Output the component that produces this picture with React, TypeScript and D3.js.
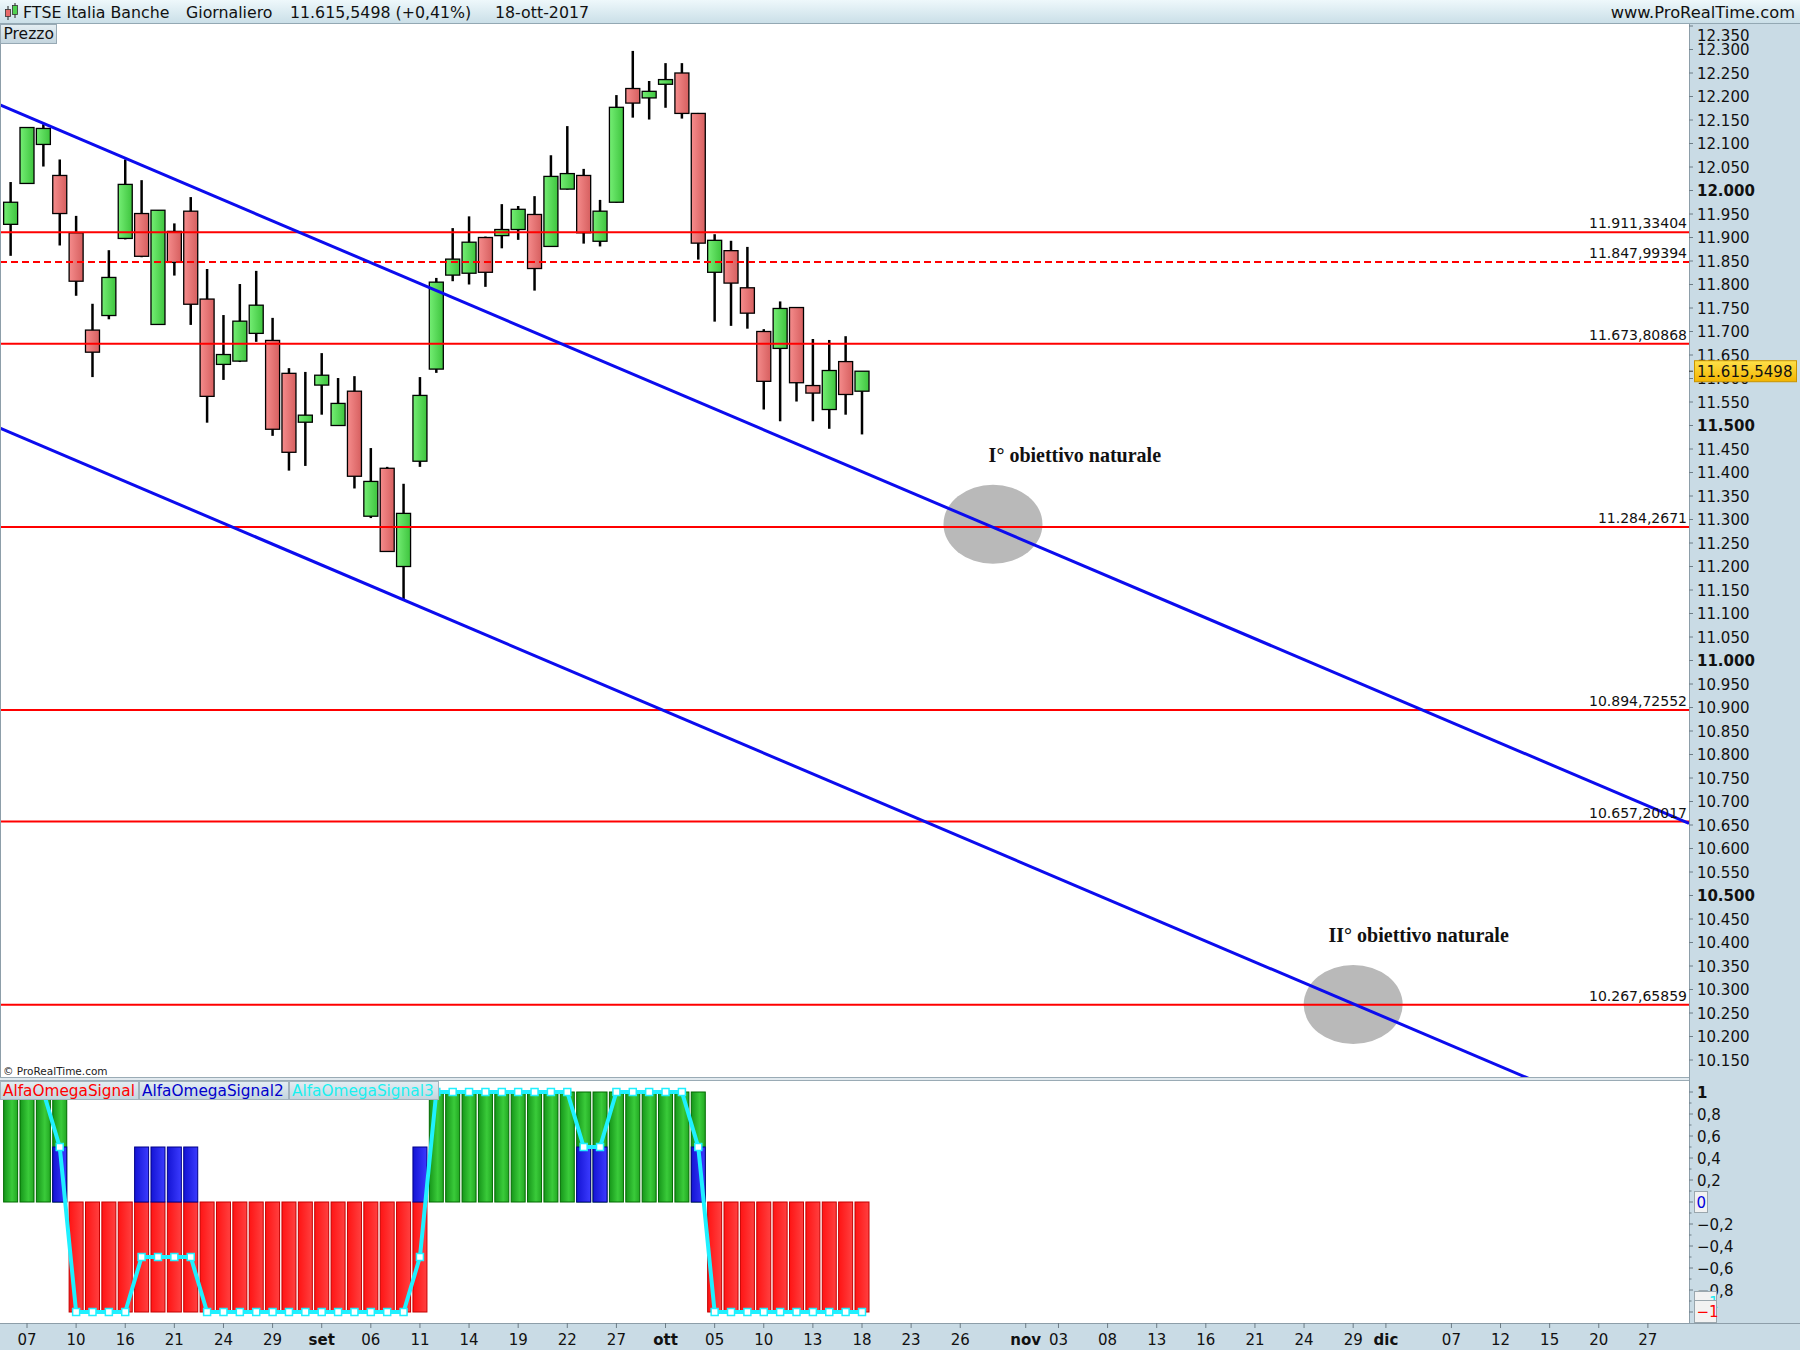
import React from 'react';
import * as d3 from 'd3';

// ---------------- DATA ----------------
const FIRST_DAY = '2017-08-04';
const LAST_DAY = '2017-12-29';
const HOLIDAYS = ['2017-08-15', '2017-12-25', '2017-12-26'];

const opens = [11.928, 12.015, 12.098, 12.032, 11.910, 11.703, 11.734, 11.898, 11.951, 11.715, 11.913, 11.956, 11.769, 11.630, 11.637, 11.696, 11.681, 11.611, 11.507, 11.586, 11.500, 11.573, 11.307, 11.409, 11.200, 11.424, 11.620, 11.820, 11.824, 11.900, 11.904, 11.917, 11.949, 11.881, 12.003, 12.032, 11.892, 11.975, 12.217, 12.197, 12.226, 12.250, 12.164, 11.826, 11.872, 11.793, 11.700, 11.664, 11.751, 11.585, 11.534, 11.636, 11.573];
const highs = [12.018, 12.134, 12.141, 12.066, 11.946, 11.759, 11.873, 12.066, 12.022, 11.958, 11.930, 11.986, 11.833, 11.735, 11.801, 11.829, 11.729, 11.622, 11.614, 11.654, 11.601, 11.605, 11.452, 11.412, 11.376, 11.603, 11.814, 11.920, 11.945, 11.902, 11.971, 11.967, 11.988, 12.075, 12.137, 12.046, 11.980, 12.203, 12.297, 12.233, 12.271, 12.271, 12.165, 11.907, 11.893, 11.880, 11.705, 11.764, 11.752, 11.684, 11.682, 11.690, 11.614];
const lows = [11.861, 12.015, 12.051, 11.883, 11.776, 11.603, 11.726, 11.896, 11.858, 11.715, 11.819, 11.714, 11.506, 11.597, 11.635, 11.678, 11.478, 11.404, 11.414, 11.523, 11.499, 11.366, 11.303, 11.231, 11.129, 11.412, 11.612, 11.807, 11.800, 11.795, 11.877, 11.895, 11.787, 11.880, 12.002, 11.887, 11.881, 11.974, 12.155, 12.151, 12.176, 12.153, 11.853, 11.721, 11.712, 11.706, 11.534, 11.509, 11.551, 11.509, 11.493, 11.523, 11.481];
const closes = [11.975, 12.134, 12.132, 11.951, 11.807, 11.656, 11.815, 12.013, 11.860, 11.958, 11.847, 11.758, 11.562, 11.651, 11.722, 11.756, 11.492, 11.443, 11.522, 11.607, 11.547, 11.392, 11.381, 11.232, 11.313, 11.564, 11.805, 11.854, 11.890, 11.826, 11.917, 11.960, 11.834, 12.030, 12.036, 11.910, 11.956, 12.177, 12.186, 12.211, 12.236, 12.164, 11.888, 11.894, 11.803, 11.739, 11.594, 11.749, 11.591, 11.569, 11.617, 11.566, 11.6155];

// AlfaOmegaSignal (histogram), AlfaOmegaSignal2 (blue histogram), AlfaOmegaSignal3 (cyan line)
const signal1 = [1, 1, 1, 1, -1, -1, -1, -1, -1, -1, -1, -1, -1, -1, -1, -1, -1, -1, -1, -1, -1, -1, -1, -1, -1, -1, 1, 1, 1, 1, 1, 1, 1, 1, 1, 1, 1, 1, 1, 1, 1, 1, 1, -1, -1, -1, -1, -1, -1, -1, -1, -1, -1];
const signal2 = [0, 0, 0, 0.5, 0, 0, 0, 0, 0.5, 0.5, 0.5, 0.5, 0, 0, 0, 0, 0, 0, 0, 0, 0, 0, 0, 0, 0, 0.5, 0, 0, 0, 0, 0, 0, 0, 0, 0, 0.5, 0.5, 0, 0, 0, 0, 0, 0.5, 0, 0, 0, 0, 0, 0, 0, 0, 0, 0];
const signal3 = [1, 1, 1, 0.5, -1, -1, -1, -1, -0.5, -0.5, -0.5, -0.5, -1, -1, -1, -1, -1, -1, -1, -1, -1, -1, -1, -1, -1, -0.5, 1, 1, 1, 1, 1, 1, 1, 1, 1, 0.5, 0.5, 1, 1, 1, 1, 1, 0.5, -1, -1, -1, -1, -1, -1, -1, -1, -1, -1];

const levelValues = [11.91133404, 11.84799394, 11.67380868, 11.2842671, 10.89472552, 10.65720017, 10.26765859];
const levelLabels = ['11.911,33404', '11.847,99394', '11.673,80868', '11.284,2671', '10.894,72552', '10.657,20017', '10.267,65859'];
const levelDashed = [false, true, false, false, false, false, false];

const trendUpperDates = ['2017-08-08', '2017-12-27'];
const trendUpperPrices = [12.1427, 10.6907];
const trendLowerDates = ['2017-09-08', '2017-12-27'];
const trendLowerPrices = [11.129, 10.0029];

const targetDates = ['2017-10-30', '2017-11-29'];
const targetPrices = [11.29, 10.268];
const targetTextDates = ['2017-11-06', '2017-12-05'];
const targetTextPrices = [11.423, 10.401];
const targetTexts = ['I° obiettivo naturale', 'II° obiettivo naturale'];

const xTickDates = ['2017-08-07', '2017-08-10', '2017-08-16', '2017-08-21', '2017-08-24', '2017-08-29', '2017-09-01', '2017-09-06', '2017-09-11', '2017-09-14', '2017-09-19', '2017-09-22', '2017-09-27', '2017-10-02', '2017-10-05', '2017-10-10', '2017-10-13', '2017-10-18', '2017-10-23', '2017-10-26', '2017-11-01', '2017-11-03', '2017-11-08', '2017-11-13', '2017-11-16', '2017-11-21', '2017-11-24', '2017-11-29', '2017-12-01', '2017-12-07', '2017-12-12', '2017-12-15', '2017-12-20', '2017-12-27'];
const xTickLabels = ['07', '10', '16', '21', '24', '29', 'set', '06', '11', '14', '19', '22', '27', 'ott', '05', '10', '13', '18', '23', '26', 'nov', '03', '08', '13', '16', '21', '24', '29', 'dic', '07', '12', '15', '20', '27'];
const monthLabels = ['set', 'ott', 'nov', 'dic'];

const indTickValues = [1, 0.8, 0.6, 0.4, 0.2, -0.2, -0.4, -0.6, -0.8];

const titleParts = ['FTSE Italia Banche', 'Giornaliero', '11.615,5498 (+0,41%)', '18-ott-2017'];
const lastPriceLabel = '11.615,5498';
const lastPrice = 11.6155;

// ---------------- HELPERS ----------------
function buildTradingDays(): string[] {
  const fmt = d3.utcFormat('%Y-%m-%d');
  const start = new Date(FIRST_DAY + 'T00:00:00Z');
  const end = new Date(LAST_DAY + 'T00:00:00Z');
  return d3.utcDay
    .range(start, d3.utcDay.offset(end, 1))
    .filter((d) => d.getUTCDay() !== 0 && d.getUTCDay() !== 6)
    .map(fmt)
    .filter((s) => !HOLIDAYS.includes(s));
}

const itLocale = d3.formatLocale({ decimal: ',', thousands: '.', grouping: [3], currency: ['€', ''], minus: '\u2212' });
const fmtPrice = (v: number) => itLocale.format(',.0f')(Math.round(v * 1000));
const fmtInd = itLocale.format('.1~f');

const FONT = 'DejaVu Sans, Verdana, sans-serif';

export default function App() {
  const W = 1800, H = 1350;
  const plotR = 1689;
  const priceTop = 24, priceBot = 1077;
  const indTop = 1081, indBot = 1323;

  const days = buildTradingDays();
  const dayIdx = new Map(days.map((d, i) => [d, i] as [string, number]));
  const di = (d: string) => dayIdx.get(d) as number;

  const x = d3.scaleLinear().domain([1, 52]).range([27, 862]);
  const y = d3.scaleLinear().domain([12, 11]).range([190.5, 660.5]);
  const yi = d3.scaleLinear().domain([1, -1]).range([1092, 1312]);

  const bodyW = 14;

  const trendPath = (dates: string[], prices: number[]) => {
    const k1 = di(dates[0]), k2 = di(dates[1]);
    const p = (k: number) => prices[0] + ((k - k1) * (prices[1] - prices[0])) / (k2 - k1);
    const ka = x.invert(0), kb = x.invert(plotR);
    return d3.line()([[0, y(p(ka))], [plotR, y(p(kb))]]) as string;
  };

  const priceTicks = d3.range(203, 248).map((v) => v * 0.05);

  const s3line = d3
    .line<number>()
    .x((_, i) => x(i))
    .y((v) => yi(v))(signal3) as string;

  return (
    <svg width={W} height={H} viewBox={`0 0 ${W} ${H}`} style={{ position: 'absolute', left: 0, top: 0, display: 'block' }} fontFamily={FONT}>
      <defs>
        <linearGradient id="hdr" x1="0" y1="0" x2="0" y2="1">
          <stop offset="0" stopColor="#eef8fb" />
          <stop offset="1" stopColor="#c9dee7" />
        </linearGradient>
        <linearGradient id="btn" x1="0" y1="0" x2="0" y2="1">
          <stop offset="0" stopColor="#e4eef3" />
          <stop offset="1" stopColor="#c3d4dd" />
        </linearGradient>
        <linearGradient id="gUp" x1="0" y1="0" x2="1" y2="0">
          <stop offset="0" stopColor="#74ee74" />
          <stop offset="1" stopColor="#3ec43e" />
        </linearGradient>
        <linearGradient id="gDn" x1="0" y1="0" x2="1" y2="0">
          <stop offset="0" stopColor="#f58c8c" />
          <stop offset="1" stopColor="#d65f5f" />
        </linearGradient>
        <linearGradient id="iG" x1="0" y1="0" x2="1" y2="0">
          <stop offset="0" stopColor="#16961a" />
          <stop offset="0.6" stopColor="#3acb3a" />
          <stop offset="1" stopColor="#22a822" />
        </linearGradient>
        <linearGradient id="iR" x1="0" y1="0" x2="1" y2="0">
          <stop offset="0" stopColor="#ff1414" />
          <stop offset="1" stopColor="#ff4040" />
        </linearGradient>
        <linearGradient id="iB" x1="0" y1="0" x2="1" y2="0">
          <stop offset="0" stopColor="#1414d4" />
          <stop offset="1" stopColor="#3b3bff" />
        </linearGradient>
        <linearGradient id="yel" x1="0" y1="0" x2="0" y2="1">
          <stop offset="0" stopColor="#ffe14a" />
          <stop offset="1" stopColor="#f2b400" />
        </linearGradient>
        <clipPath id="cpPrice">
          <rect x={0} y={priceTop} width={plotR} height={priceBot - priceTop} />
        </clipPath>
        <clipPath id="cpInd">
          <rect x={0} y={indTop} width={plotR} height={indBot - indTop} />
        </clipPath>
      </defs>

      <rect x={0} y={0} width={W} height={H} fill="#ffffff" />

      {/* header */}
      <rect x={0} y={0} width={W} height={24} fill="url(#hdr)" />
      <line x1={0} x2={W} y1={23.5} y2={23.5} stroke="#93a8b3" />
      <g>
        <line x1={8} x2={8} y1={6} y2={20} stroke="#222" strokeWidth={1} />
        <rect x={5.5} y={9.5} width={5} height={7} fill="#e86a6a" stroke="#333" strokeWidth={0.8} />
        <line x1={15} x2={15} y1={3} y2={18} stroke="#222" strokeWidth={1} />
        <rect x={12.5} y={5.5} width={5} height={9} fill="#4fd24f" stroke="#333" strokeWidth={0.8} />
      </g>
      {titleParts.map((t, i) => (
        <text key={t} x={[23, 186, 290, 495][i]} y={17.5} fontSize={15.8} fill="#111">{t}</text>
      ))}
      <text x={1795} y={17.5} fontSize={16.3} fill="#111" textAnchor="end">www.ProRealTime.com</text>

      {/* price panel */}
      <rect x={0} y={priceTop} width={plotR} height={priceBot - priceTop} fill="#fff" />
      <g clipPath="url(#cpPrice)">
        {targetDates.map((d, i) => (
          <ellipse key={d} cx={x(di(d))} cy={y(targetPrices[i])} rx={49.5} ry={39.5} fill="#b9b9b9" />
        ))}
        {/* candles */}
        {opens.map((o, i) => {
          const c = closes[i];
          const up = c >= o;
          const cx = x(i);
          const top = y(Math.max(o, c));
          const bot = y(Math.min(o, c));
          return (
            <g key={i}>
              <line x1={cx} x2={cx} y1={y(highs[i])} y2={y(lows[i])} stroke="#000" strokeWidth={2.5} />
              <rect x={cx - bodyW / 2} y={top} width={bodyW} height={Math.max(bot - top, 1)} fill={up ? 'url(#gUp)' : 'url(#gDn)'} stroke="#000" strokeWidth={1.3} />
            </g>
          );
        })}
        {/* horizontal levels */}
        {levelValues.map((v, i) => (
          <line key={v} x1={0} x2={plotR} y1={y(v)} y2={y(v)} stroke="#ff0000" strokeWidth={2} strokeDasharray={levelDashed[i] ? '7 4' : undefined} />
        ))}
        <path d={trendPath(trendUpperDates, trendUpperPrices)} stroke="#0c0cee" strokeWidth={3} fill="none" />
        <path d={trendPath(trendLowerDates, trendLowerPrices)} stroke="#0c0cee" strokeWidth={3} fill="none" />
        {levelValues.map((v, i) => (
          <text key={'l' + v} x={1687} y={y(v) - 4} fontSize={14} fill="#111" textAnchor="end">{levelLabels[i]}</text>
        ))}
        {targetTexts.map((t, i) => (
          <text key={t} x={x(di(targetTextDates[i]))} y={y(targetTextPrices[i])} fontSize={20} fontWeight="bold" fontFamily="Liberation Serif, Times New Roman, serif" textAnchor="middle" fill="#111">{t}</text>
        ))}
        <text x={3} y={1075} fontSize={10.5} fill="#222">© ProRealTime.com</text>
      </g>
      <line x1={0.5} x2={0.5} y1={priceTop} y2={indBot} stroke="#8d9ea9" />
      {/* Prezzo button */}
      <rect x={0.5} y={24.5} width={56} height={19} fill="url(#btn)" stroke="#97a9b4" />
      <text x={3.5} y={39} fontSize={15.5} fill="#111">Prezzo</text>

      {/* separator */}
      <rect x={0} y={priceBot} width={plotR} height={indTop - priceBot} fill="#e2eaef" />
      <line x1={0} x2={plotR} y1={priceBot + 0.5} y2={priceBot + 0.5} stroke="#9aabb5" />
      <line x1={0} x2={plotR} y1={indTop - 0.5} y2={indTop - 0.5} stroke="#9aabb5" />

      {/* indicator panel */}
      <rect x={0} y={indTop} width={plotR} height={indBot - indTop} fill="#fff" />
      <g clipPath="url(#cpInd)">
        {signal1.map((v, i) => (
          <rect key={'s1' + i} x={x(i) - bodyW / 2} y={Math.min(yi(v), yi(0))} width={bodyW} height={Math.abs(yi(v) - yi(0))} fill={v > 0 ? 'url(#iG)' : 'url(#iR)'} stroke={v > 0 ? '#006a00' : '#c40000'} strokeWidth={1} />
        ))}
        {signal2.map((v, i) =>
          v !== 0 ? (
            <rect key={'s2' + i} x={x(i) - bodyW / 2} y={Math.min(yi(v), yi(0))} width={bodyW} height={Math.abs(yi(v) - yi(0))} fill="url(#iB)" stroke="#00008a" strokeWidth={1} />
          ) : null
        )}
        <path d={s3line} stroke="#1ff0ff" strokeWidth={4} fill="none" strokeLinejoin="round" />
        {signal3.map((v, i) => (
          <rect key={'s3' + i} x={x(i) - 3.5} y={yi(v) - 3.5} width={7} height={7} fill="#fff" stroke="#1ff0ff" strokeWidth={1.5} />
        ))}
      </g>
      {/* legend */}
      <g fontSize={15.3}>
        <rect x={0.5} y={1081.5} width={138} height={18} fill="url(#btn)" stroke="#a3b3bc" />
        <rect x={139.5} y={1081.5} width={149} height={18} fill="url(#btn)" stroke="#a3b3bc" />
        <rect x={289.5} y={1081.5} width={149} height={18} fill="url(#btn)" stroke="#a3b3bc" />
        <text x={3} y={1096} fill="#ff0000">AlfaOmegaSignal</text>
        <text x={142} y={1096} fill="#0000cc">AlfaOmegaSignal2</text>
        <text x={292} y={1096} fill="#19f0f0">AlfaOmegaSignal3</text>
      </g>

      {/* right axis */}
      <rect x={plotR} y={24} width={W - plotR} height={indBot - 24} fill="#c9dbe5" />
      <line x1={plotR + 0.5} x2={plotR + 0.5} y1={24} y2={indBot} stroke="#8d9ea9" />
      {priceTicks.map((v) => {
        const ty = y(v);
        const label = fmtPrice(v);
        const bold = Math.abs(v * 2 - Math.round(v * 2)) < 1e-6;
        return (
          <g key={'pt' + label}>
            <line x1={plotR} x2={plotR + 4} y1={ty} y2={ty} stroke="#6c7c86" />
            <text x={1697} y={Math.max(ty, 35) + 5.5} fontSize={15} fontWeight={bold ? 'bold' : 'normal'} fill="#111">{label}</text>
          </g>
        );
      })}
      <line x1={plotR} x2={plotR + 4} y1={y(lastPrice)} y2={y(lastPrice)} stroke="#333" />
      <rect x={1694.5} y={y(lastPrice) - 10.5} width={102} height={21} fill="url(#yel)" stroke="#c99400" />
      <text x={1697} y={y(lastPrice) + 5.5} fontSize={15} fill="#111">{lastPriceLabel}</text>

      {/* indicator axis */}
      {d3.range(-10, 11).map((k) => (
        <line key={'it' + k} x1={plotR} x2={plotR + (k % 2 === 0 ? 4 : 2.5)} y1={yi(k / 10)} y2={yi(k / 10)} stroke="#6c7c86" />
      ))}
      {indTickValues.map((v) => (
        <text key={'il' + v} x={1697} y={yi(v) + 5.5} fontSize={15} fontWeight={v === 1 ? 'bold' : 'normal'} fill="#111">{fmtInd(v)}</text>
      ))}
      <rect x={1694.5} y={yi(0) - 10.5} width={13} height={21} fill="#f2f2f2" stroke="#9aa6ad" />
      <text x={1696.5} y={yi(0) + 5.5} fontSize={15} fill="#0000dd">0</text>
      <rect x={1694.5} y={yi(-1) - 20.5} width={22} height={21} fill="#f2f2f2" stroke="#9aa6ad" />
      <text x={1696.5} y={yi(-1) - 4.5} fontSize={15} fill="#1fe8f0">{fmtInd(-1)}</text>
      <rect x={1694.5} y={yi(-1) - 11.5} width={22} height={22} fill="#f2f2f2" stroke="#9aa6ad" />
      <text x={1696.5} y={yi(-1) + 5} fontSize={15} fill="#ff0000">{fmtInd(-1)}</text>

      {/* x axis */}
      <rect x={0} y={indBot} width={W} height={H - indBot} fill="#c9dbe5" />
      <line x1={0} x2={W} y1={indBot + 0.5} y2={indBot + 0.5} stroke="#8d9ea9" />
      {xTickDates.map((d, i) => {
        const tx = x(di(d));
        const lab = xTickLabels[i];
        return (
          <g key={'xt' + d}>
            <line x1={tx} x2={tx} y1={indBot} y2={indBot + 5} stroke="#6c7c86" />
            <text x={tx} y={1345} fontSize={15} textAnchor="middle" fontWeight={monthLabels.includes(lab) ? 'bold' : 'normal'} fill="#111">{lab}</text>
          </g>
        );
      })}
    </svg>
  );
}
